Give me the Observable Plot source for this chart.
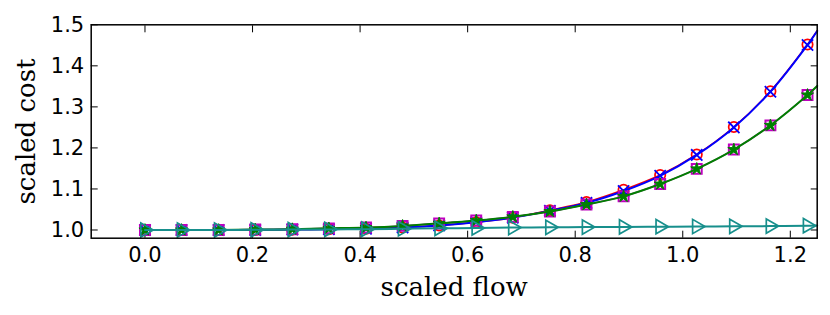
<!DOCTYPE html>
<html><head><meta charset="utf-8">
<script src="https://cdn.jsdelivr.net/npm/d3@7"></script>
<script src="https://cdn.jsdelivr.net/npm/@observablehq/plot@0.6"></script>
<style>html,body{margin:0;padding:0;background:#fff}#chart svg{display:block}</style>
</head><body><div id="chart"></div>
<script>
// ---- data ----
const flow = [0, 0.068, 0.137, 0.205, 0.274, 0.342, 0.411, 0.479, 0.547, 0.616, 0.684, 0.753, 0.821, 0.890, 0.958, 1.026, 1.095, 1.163, 1.232];
const edgeFlow = 1.25; // where the curves leave the plot on the right
const costCircle   = [1.000, 1.000, 1.000, 1.000, 1.001, 1.002, 1.003, 1.006, 1.011, 1.019, 1.030, 1.048, 1.068, 1.098, 1.134, 1.184, 1.251, 1.338, 1.452];
const costCross    = [1.000, 1.000, 1.000, 1.000, 1.001, 1.002, 1.003, 1.006, 1.011, 1.019, 1.030, 1.047, 1.066, 1.095, 1.132, 1.183, 1.250, 1.337, 1.451];
const costSquare   = [1.000, 1.000, 1.000, 1.001, 1.002, 1.004, 1.006, 1.010, 1.016, 1.023, 1.032, 1.045, 1.062, 1.082, 1.112, 1.149, 1.196, 1.255, 1.329];
const costStar     = [1.000, 1.000, 1.000, 1.001, 1.002, 1.004, 1.006, 1.010, 1.016, 1.023, 1.032, 1.045, 1.062, 1.082, 1.112, 1.149, 1.196, 1.255, 1.329];
const costTriangle = [1.000, 1.000, 1.000, 1.0005, 1.001, 1.0015, 1.002, 1.003, 1.004, 1.005, 1.006, 1.0065, 1.007, 1.0075, 1.008, 1.0085, 1.009, 1.0095, 1.0105];
const edgeCost = {circle: 1.486, cross: 1.485, square: 1.351, star: 1.351, triangle: 1.011};
const xTicks = [0, 0.2, 0.4, 0.6, 0.8, 1.0, 1.2];
const yTicks = [1.0, 1.1, 1.2, 1.3, 1.4, 1.5];
const xLabel = "scaled flow";
const yLabel = "scaled cost";

const pts = (vals) => flow.map((x, i) => ({x, y: vals[i]}));
const linePts = (vals, e) => pts(vals).concat([{x: edgeFlow, y: e}]);

const C = {red: "#ff0000", blue: "#0000ff", magenta: "#bf00bf", green: "#008000", teal: "#178f8c"};
const curve = "catmull-rom";

const chart = Plot.plot({
  width: 830, height: 315,
  marginLeft: 90.7, marginRight: 13.3, marginTop: 24.3, marginBottom: 77.3,
  style: {fontFamily: "DejaVu Sans", fontSize: "21px", color: "black", background: "white"},
  x: {domain: [-0.1, 1.25]},
  y: {domain: [0.98, 1.5]},
  marks: [
    Plot.axisX({anchor: "bottom", ticks: xTicks, tickFormat: d3.format(".1f"), tickSize: -7, tickPadding: 16, label: null, fontSize: 21}),
    Plot.axisX({anchor: "top", ticks: xTicks, tickFormat: () => "", tickSize: -7, label: null}),
    Plot.axisY({anchor: "left", ticks: yTicks, tickFormat: d3.format(".1f"), tickSize: -7, tickPadding: 14, label: null, fontSize: 21}),
    Plot.axisY({anchor: "right", ticks: yTicks, tickFormat: () => "", tickSize: -7, label: null}),

    Plot.line(linePts(costCircle, edgeCost.circle), {x: "x", y: "y", stroke: C.red, strokeWidth: 1.5, curve}),
    Plot.dot(pts(costCircle), {x: "x", y: "y", r: 5.2, stroke: C.red, strokeWidth: 1.7, fill: "none"}),
    Plot.line(linePts(costCross, edgeCost.cross), {x: "x", y: "y", stroke: C.blue, strokeWidth: 2, curve}),
    Plot.dot(pts(costCross), {x: "x", y: "y", symbol: "times", r: 5.2, stroke: C.blue, strokeWidth: 1.8}),
    Plot.line(linePts(costSquare, edgeCost.square), {x: "x", y: "y", stroke: C.magenta, strokeWidth: 1.5, curve}),
    Plot.dot(pts(costSquare), {x: "x", y: "y", symbol: "square", r: 5.6, stroke: C.magenta, strokeWidth: 2, fill: "none"}),
    Plot.line(linePts(costStar, edgeCost.star), {x: "x", y: "y", stroke: C.green, strokeWidth: 2, curve}),
    Plot.dot(pts(costStar), {x: "x", y: "y", symbol: "star", r: 3.8, stroke: C.green, fill: C.green, strokeWidth: 1}),
    Plot.line(linePts(costTriangle, edgeCost.triangle), {x: "x", y: "y", stroke: C.teal, strokeWidth: 2, curve}),
    Plot.dot(pts(costTriangle), {x: "x", y: "y", symbol: "triangle", rotate: 90, r: 5.3, stroke: C.teal, strokeWidth: 1.7, fill: "none"}),

    Plot.frame({stroke: "black", strokeWidth: 1.5}),
    Plot.text([xLabel], {text: d => d, frameAnchor: "bottom", textAnchor: "middle", dy: 57.3, lineAnchor: "bottom", fontFamily: "DejaVu Serif", fontSize: 26}),
    Plot.text([yLabel], {text: d => d, frameAnchor: "left", textAnchor: "middle", dx: -55.7, rotate: -90, lineAnchor: "bottom", fontFamily: "DejaVu Serif", fontSize: 26})
  ]
});
document.getElementById("chart").appendChild(chart);
</script>
</body></html>
